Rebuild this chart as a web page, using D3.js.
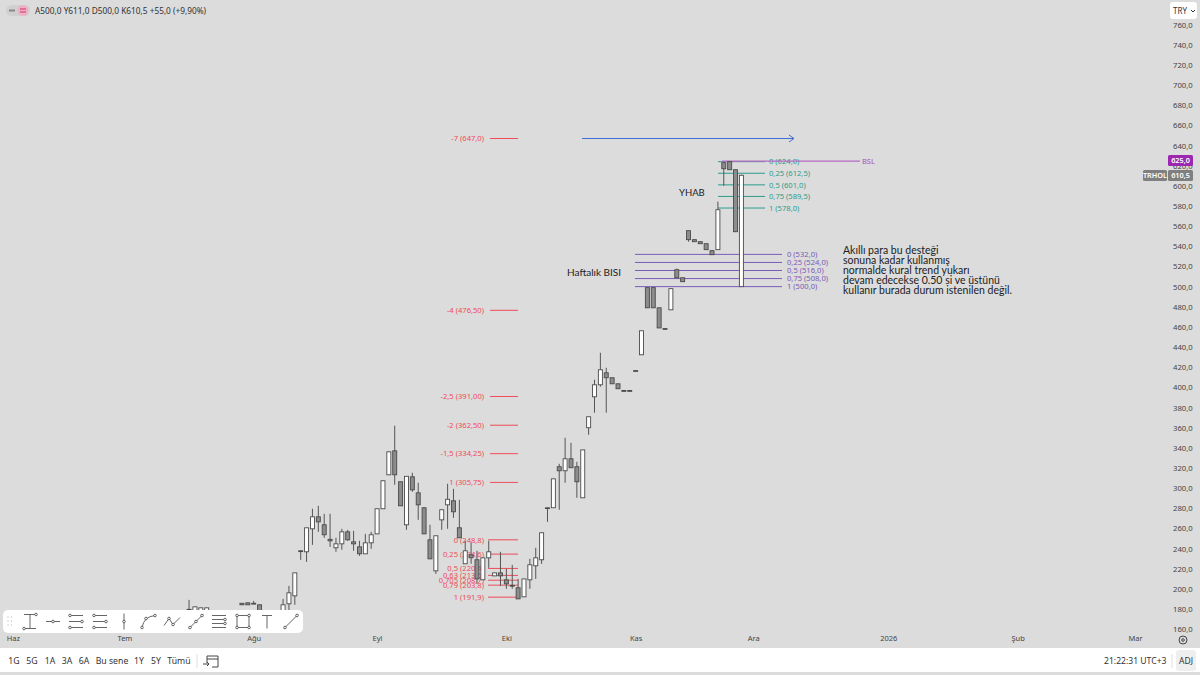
<!DOCTYPE html>
<html>
<head>
<meta charset="utf-8">
<script src="https://cdn.jsdelivr.net/npm/d3@7"></script>
<style>
html, body { margin: 0; padding: 0; background: #dcdcdc; overflow: hidden; }
svg { display: block; }
text { font-family: "Noto Sans", sans-serif; }
</style>
</head>
<body>
<svg id="chart" width="1200" height="675"></svg>
<script>
'use strict';
// bar numbers, bar 0 is the first candle above the toolbar
const barIdx = [-19,-18,-17,-16,-10,-9,-8,-7,-3,-2,-1,
	0,1,2,3,4,5,6,7,8,9,10,11,12,13,14,15,16,17,18,19,20,21,22,23,24,25,26,27,28,29,
	30,31,32,33,34,35,36,37,38,39,40,41,42,43,44,45,46,47,48,49,50,51,52,53,54,55,56,57,58,59,
	60,61,62,63,64,65,66,67,68,69,70,71,72,73,74,75];
const opens = [179.8,175,175,175,185.8,186.3,185.8,184.3,175,185.3,193.2,
	237.9,236.9,259.7,271.6,263.7,249.3,240.9,244.8,256.7,246.8,241.8,234.9,245.8,254.7,279.6,313.3,337.1,306.4,263.7,311.3,295.4,280.6,248.8,218,268.6,283.5,287.5,260.7,225,233.9,
	229,209.1,230.9,213,216,209.1,203.6,201.2,192.2,209.1,223,229,280,280.6,321.3,317.3,329.2,321.3,290.5,360,390.7,402.6,414.5,409.6,403.6,396.9,396.9,416.7,432.4,499,
	499,479,458.4,477,516.8,508.8,555.5,546.6,544.6,542.6,535.7,536.7,623,624,616,500];
const highs = [189.2,182.3,181.3,181.3,185.8,186.3,188.2,184.3,190.2,203.1,216,
	238.2,260.7,279.6,282.5,274.6,274.6,250.8,259.7,258.7,257.7,247.8,254.7,256.7,279.6,307.4,336.1,362,306.4,311.8,315.3,305.4,280.6,263.7,252.8,278.6,304.4,299.4,288.5,247.8,246,
	237.9,230.9,247.8,216,236.9,220,224,210,210,229.9,240.9,255.8,280.6,309.3,324.2,350,345,326.2,338,370.9,407.6,434.4,419.5,409.6,403.6,396.9,396.9,416.7,456.2,499,
	499,479,458.4,498,517.8,508.8,555.5,546.6,544.6,542.6,535.7,584.3,623,624,616,611];
const lows = [178,175,175,175,184.3,184.3,185,170,170,178.3,184.3,
	228.9,226.9,243.8,256.7,250.8,241.8,236.9,238.9,247.8,237.9,232.9,234.9,239.9,254.7,279.6,313.3,303.4,282.5,258.7,296.4,268.6,254.7,229.9,215,258.7,259.7,270.6,250.8,225,225,
	205.1,209.1,221,213,203.1,200.2,200.2,190.2,192.2,200.2,210,225,266.6,280.6,278.6,305.4,320.3,290.5,290.5,353,374.9,400.7,374.9,403.6,398.7,396.3,396.3,416.1,432.4,479,
	479,459,457.8,477,508.8,504.9,544.6,544.6,542.6,536.7,531.7,536.7,600,616,554.5,500];
const closes = [179.3,182.3,181.3,181.3,184.3,184.3,185.3,170,184.3,196.2,216,
	237.4,260.7,271.6,266.6,253.8,247.8,244.8,256.7,248.8,244.8,234.9,245.8,253.8,279.6,307.4,336.1,313.3,282.5,311.8,298.4,283.5,254.7,229.9,252.8,278.6,289,276.6,250.8,237.9,231,
	210,230.9,236.9,216,213,205.1,203.1,190.2,210,224,230.9,255.8,280.6,309.3,317.3,329.2,320.3,306.4,338,370.9,402.6,417.5,409.6,403.6,398.7,396.3,396.3,416.1,456.2,479,
	479,459,457.8,498,508.8,504.9,546.6,544.6,542.6,536.7,531.7,576.3,617,616,554.5,610.5];

const priceTicks = d3.range(160, 761, 20);
const timeTickBars = [-49,-30,-8,13,35,57,77,100,122,142];
const timeTickLabels = ['Haz','Tem','Ağu','Eyl','Eki','Kas','Ara','2026','Şub','Mar'];

// fib levels drawn by hand on the chart
const redLevels = [647,476.5,391,362.5,334.25,305.75,248.8,234.6,220.4,213.5,208.7,203.8,191.9];
const redLabels = ['-7 (647,0)','-4 (476,50)','-2,5 (391,00)','-2 (362,50)','-1,5 (334,25)','1 (305,75)',
	'0 (248,8)','0,25 (234,6)','0,5 (220,4)','0,63 (213,5)','0,705 (208,7)','0,79 (203,8)','1 (191,9)'];
const tealLevels = [624,612.5,601,589.5,578];
const tealLabels = ['0 (624,0)','0,25 (612,5)','0,5 (601,0)','0,75 (589,5)','1 (578,0)'];
const purpleLevels = [532,524,516,508,500];
const purpleLabels = ['0 (532,0)','0,25 (524,0)','0,5 (516,0)','0,75 (508,0)','1 (500,0)'];
const noteLines = ['Akıllı para bu desteği','sonuna kadar kullanmış','normalde kural trend yukarı',
	'devam edecekse 0.50 si ve üstünü','kullanır burada durum istenilen değil.'];
const rangeButtons = ['1G','5G','1A','3A','6A','Bu sene','1Y','5Y','Tümü'];
const rangeX = [14,32,50,67,84,112,139,156,179];

const svg = d3.select('#chart');
const x = d3.scaleLinear().domain([0, 75]).range([300.7, 741.4]);
const y = d3.scaleLinear().domain([760, 160]).range([24.6, 629.3]);

svg.append('rect').attr('width', 1200).attr('height', 675).attr('fill', '#dcdcdc');

// axes
const yAxis = svg.append('g').attr('transform', 'translate(1166,0)')
	.call(d3.axisRight(y).tickValues(priceTicks).tickSize(0).tickPadding(7)
		.tickFormat(d => d + ',0'));
yAxis.select('.domain').remove();
yAxis.selectAll('text').attr('fill', '#444').style('font-size', '7.7px');

const xAxis = svg.append('g').attr('transform', 'translate(0,633.5)')
	.call(d3.axisBottom(x).tickValues(timeTickBars).tickSize(0).tickPadding(2)
		.tickFormat((d, i) => timeTickLabels[i]));
xAxis.select('.domain').remove();
xAxis.selectAll('text').attr('fill', '#444').style('font-size', '7.5px');

// levels, behind the candles
function levels(vals, labels, x1, x2, color, lx, anchor, size) {
	const g = svg.append('g');
	g.selectAll('line').data(vals).enter().append('line')
		.attr('x1', x1).attr('x2', x2)
		.attr('y1', d => y(d)).attr('y2', d => y(d))
		.attr('stroke', color).attr('stroke-width', 1);
	g.selectAll('text').data(vals).enter().append('text')
		.attr('x', lx).attr('y', d => y(d) + 2.8)
		.attr('text-anchor', anchor).attr('fill', color)
		.style('font-size', size + 'px')
		.text((d, i) => labels[i]);
}
levels(redLevels.slice(0, 6), redLabels.slice(0, 6), 490, 518, '#ee4b58', 484, 'end', 7.6);
levels(redLevels.slice(6), redLabels.slice(6), 488, 518, '#ee4b58', 484, 'end', 7.6);
levels(tealLevels, tealLabels, 718, 765, '#2b9c8c', 769, 'start', 7.6);
levels(purpleLevels, purpleLabels, 635, 782, '#7a5bb8', 787, 'start', 7.6);

// BSL line
svg.append('line').attr('x1', 722).attr('x2', 860).attr('y1', y(624.5)).attr('y2', y(624.5))
	.attr('stroke', '#b768c4').attr('stroke-width', 1.2);
svg.append('text').attr('x', 862).attr('y', y(624.5) + 2.8).attr('fill', '#a84fbb')
	.style('font-size', '7.5px').text('BSL');

// blue arrow
const arrowY = y(647);
svg.append('path').attr('fill', 'none').attr('stroke', '#3f6fd8').attr('stroke-width', 1)
	.attr('d', `M582,${arrowY}H794M789,${arrowY - 3.5}L794,${arrowY}L789,${arrowY + 3.5}`);

// candles
const candles = barIdx.map((b, i) => ({ bar: b, o: opens[i], h: highs[i], l: lows[i], c: closes[i] }));
const bw = 4;
const cg = svg.append('g');
cg.selectAll('line').data(candles).enter().append('line')
	.attr('x1', d => x(d.bar)).attr('x2', d => x(d.bar))
	.attr('y1', d => y(d.h)).attr('y2', d => y(d.l))
	.attr('stroke', '#555').attr('stroke-width', 1);
cg.selectAll('rect').data(candles).enter().append('rect')
	.attr('x', d => x(d.bar) - bw / 2)
	.attr('width', bw)
	.attr('y', d => y(Math.max(d.o, d.c)))
	.attr('height', d => Math.max(0.8, Math.abs(y(d.o) - y(d.c))))
	.attr('fill', d => d.c >= d.o ? '#fff' : '#8c8c8c')
	.attr('stroke', '#4a4a4a').attr('stroke-width', 0.9);

// text notes
function note(tx, ty, s, size) {
	return svg.append('text').attr('x', tx).attr('y', ty).attr('fill', '#222')
		.style('font-family', 'Lato').style('font-size', size + 'px').text(s);
}
note(679, 195.5, 'YHAB', 9.5);
note(567, 275.5, 'Haftalık BISI', 10);
noteLines.forEach((s, i) => note(843, 254 + i * 10, s, 10.5));

// header
svg.append('rect').attr('x', 6).attr('y', 5).attr('width', 24).attr('height', 11).attr('rx', 5.5).attr('fill', '#d0d0d0');
svg.append('rect').attr('x', 9).attr('y', 9.5).attr('width', 6).attr('height', 2).attr('fill', '#888');
svg.append('circle').attr('cx', 23).attr('cy', 10.5).attr('r', 5.5).attr('fill', '#eeb0c4');
svg.append('path').attr('d', 'M20,9H26M20,12H26').attr('stroke', '#d6336c').attr('stroke-width', 1);
svg.append('text').attr('x', 35).attr('y', 13.5).attr('fill', '#333').style('font-size', '8.3px')
	.text('A500,0 Y611,0 D500,0 K610,5 +55,0 (+9,90%)');

// currency button
svg.append('rect').attr('x', 1170).attr('y', 2).attr('width', 27).attr('height', 17).attr('rx', 3).attr('fill', '#fff');
svg.append('text').attr('x', 1173).attr('y', 13.5).attr('fill', '#333').style('font-size', '8px').text('TRY');
svg.append('path').attr('d', 'M1191,10l2,2l2,-2').attr('fill', 'none').attr('stroke', '#333');

// price tags
function tag(tx, ty, w, h, fill, label) {
	svg.append('rect').attr('x', tx).attr('y', ty).attr('width', w).attr('height', h).attr('rx', 1.5).attr('fill', fill);
	svg.append('text').attr('x', tx + w / 2).attr('y', ty + h / 2 + 2.8).attr('text-anchor', 'middle')
		.attr('fill', '#fff').style('font-size', '7.3px').style('font-weight', 600).text(label);
}
tag(1168, 155, 25, 11, '#9c27b0', '625,0');
tag(1143, 170, 24, 11, '#7f7f7f', 'TRHOL');
tag(1168, 170, 25, 11, '#7f7f7f', '610,5');

// drawing toolbar
svg.append('rect').attr('x', 3).attr('y', 610).attr('width', 300).attr('height', 23).attr('rx', 5).attr('fill', '#fff');
const dots = svg.append('g').attr('fill', '#c4c4c4');
[8, 11.5].forEach(dx => [617, 621, 625].forEach(dy => dots.append('circle').attr('cx', dx).attr('cy', dy).attr('r', 0.7)));
const toolIcons = [
	[30, 'M-6,-7H6M0,-7V7M-6,7H6', [[6,-7],[-6,7]]],
	[53, 'M-7,0H7', [[0,0]]],
	[76, 'M-7,-6H7M-7,0H7M-7,6H7', [[-6,-6],[6,0],[-6,6]]],
	[100, 'M-7,-6H7M-7,0H7M-7,6H7', [[-6,-6],[6,0],[-6,6]]],
	[124, 'M0,-8V8', [[0,0]]],
	[148, 'M-6,6Q-4,-5 7,-6', [[-6,6],[-2,-3],[7,-6]]],
	[172, 'M-8,4L-3,-3L1,3L8,-4', [[-3,-3],[1,3]]],
	[196, 'M-7,7L7,-7', [[-6,6],[0,0],[6,-6]]],
	[219, 'M-7,-6H7M-7,-2H7M-7,2H7M-7,6H7', [[6,-2],[6,2]]],
	[243, 'M-6,-6H6V6H-6Z', [[-6,-6],[6,-6],[-6,6],[6,6]]],
	[267, 'M-5,-6H5M0,-6V7', []],
	[291, 'M-7,7L7,-7', [[-6,6],[6,-6]]]
];
const tools = svg.append('g').attr('fill', 'none').attr('stroke', '#555').attr('stroke-width', 0.9);
toolIcons.forEach(t => {
	const ig = tools.append('g').attr('transform', `translate(${t[0]},621.5)`);
	ig.append('path').attr('d', t[1]);
	t[2].forEach(p => ig.append('circle').attr('cx', p[0]).attr('cy', p[1]).attr('r', 1.3).attr('fill', '#fff'));
});

// range bar at the bottom
svg.append('rect').attr('x', 0).attr('y', 648).attr('width', 1200).attr('height', 24).attr('fill', '#fff');
svg.append('g').selectAll('text').data(rangeButtons).enter().append('text')
	.attr('x', (d, i) => rangeX[i]).attr('y', 664).attr('text-anchor', 'middle')
	.attr('fill', '#333').style('font-size', '8.7px').text(d => d);
svg.append('line').attr('x1', 197).attr('x2', 197).attr('y1', 654).attr('y2', 668).attr('stroke', '#e0e0e0');
svg.append('path').attr('fill', 'none').attr('stroke', '#444')
	.attr('d', 'M207,656H218V667H212M207,656V663M207,659H218M203,664H209M207,662l2,2l-2,2');
svg.append('text').attr('x', 1104).attr('y', 664).attr('fill', '#333').style('font-size', '8.6px').text('21:22:31 UTC+3');
svg.append('line').attr('x1', 1172).attr('x2', 1172).attr('y1', 654).attr('y2', 668).attr('stroke', '#e0e0e0');
svg.append('rect').attr('x', 1176).attr('y', 650).attr('width', 20).attr('height', 21).attr('rx', 3).attr('fill', '#efefef');
svg.append('text').attr('x', 1186).attr('y', 664).attr('text-anchor', 'middle').attr('fill', '#333').style('font-size', '8.5px').text('ADJ');
// settings icon
svg.append('circle').attr('cx', 1183).attr('cy', 640).attr('r', 4).attr('fill', 'none').attr('stroke', '#444');
svg.append('circle').attr('cx', 1183).attr('cy', 640).attr('r', 1.3).attr('fill', 'none').attr('stroke', '#444');
</script>
</body>
</html>
